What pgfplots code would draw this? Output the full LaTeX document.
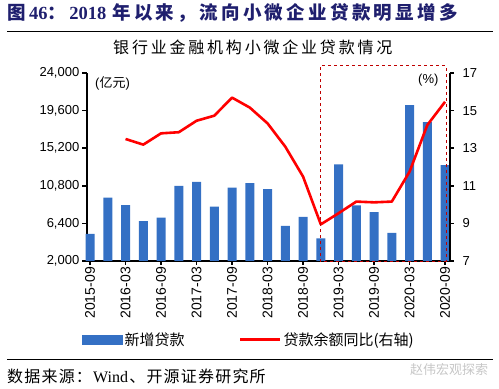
\documentclass[border=0pt]{standalone}
\usepackage{pgfplots}
\pgfplotsset{compat=1.18}
\usepackage{fontspec}
\setmainfont{Liberation Sans}
\newfontfamily\cjk{Noto Sans CJK SC}
\newfontfamily\tnr{Liberation Serif}
\definecolor{barblue}{HTML}{3470C4}
\definecolor{navy}{HTML}{1F1F6E}
\definecolor{dred}{HTML}{C00000}
\makeatletter
\newcommand\spaced[2]{\@tfor\sp@ch:=#2\do{\sp@ch\hspace{#1}}}
\makeatother

\pgfplotstableread{
x y
0 5160
1 9410
2 8550
3 6680
4 7070
5 10800
6 11250
7 8360
8 10580
9 11120
10 10425
11 6100
12 7150
13 4650
14 13310
15 8515
16 7730
17 5280
18 20255
19 18265
20 13234
}\newloans

\pgfplotstableread{
x y
2 13.49
3 13.19
4 13.79
5 13.85
6 14.46
7 14.73
8 15.69
9 15.16
10 14.32
11 13.08
12 11.49
13 8.95
14 9.54
15 10.16
16 10.12
17 10.16
18 11.75
19 14.23
20 15.47
}\growth

\begin{document}
\begin{tikzpicture}[x=1pt,y=1pt]
\useasboundingbox (0,0) rectangle (499,389);
% header
\node[anchor=west, text=navy, inner sep=0] at (7,376)
  {\fontsize{18.5}{18.5}\selectfont\cjk\bfseries \spaced{3.3pt}{图}{\tnr\bfseries 46}\spaced{3.3pt}{：}{\tnr\bfseries 2018}\hspace{6pt}\spaced{3.3pt}{年以来，流向小微企业贷款明显增多}};
\draw[line width=1pt] (7,357.5) -- (493,357.5);
\node[anchor=west, inner sep=0] at (113,342) {\fontsize{16}{16}\selectfont\cjk\spaced{2.8pt}{银行业金融机构小微企业贷款情况}};

\begin{axis}[
  at={(86.5pt,128pt)}, anchor=south west,
  scale only axis, width=363pt, height=188pt,
  ybar, bar width=9pt,
  xmin=-0.2, xmax=20.25,
  ymin=2000, ymax=24000,
  ytick={2000,6400,10800,15200,19600,24000},
  scaled y ticks=false,
  axis y line*=left, axis x line*=bottom,
  axis line style={line width=2pt, -},
  tick align=outside,
  major tick length=4pt,
  tick style={line width=1.6pt, black},
  xtick={0,2,...,20},
  xticklabels={2015-09,2016-03,2016-09,2017-03,2017-09,2018-03,2018-09,2019-03,2019-09,2020-03,2020-09},
  xticklabel style={rotate=90, anchor=east, inner sep=2pt, font=\fontsize{14}{14}\selectfont},
  yticklabel style={font=\fontsize{13}{13}\selectfont, inner sep=3pt,
    /pgf/number format/.cd, fixed, precision=0, 1000 sep={,}, assume math mode=true},
  clip=false,
]
\addplot[fill=barblue, draw=none] table[x=x,y=y] {\newloans};
\end{axis}

\begin{axis}[
  at={(86.5pt,128pt)}, anchor=south west,
  scale only axis, width=363pt, height=188pt,
  xmin=-0.2, xmax=20.25,
  ymin=7, ymax=17,
  ytick={7,9,11,13,15,17},
  axis y line*=right, axis x line=none,
  axis line style={line width=2pt, -},
  tick align=outside,
  major tick length=4pt,
  tick style={line width=1.6pt, black},
  yticklabel style={font=\fontsize{13}{13}\selectfont, inner sep=3pt, xshift=6pt,
    /pgf/number format/assume math mode=true},
  clip=false,
  legend style={at={(-0.0124,-0.42)}, anchor=west, draw=none, fill=none,
    inner sep=0pt, font=\fontsize{15}{15}\selectfont\cjk,
    /tikz/every even column/.append style={column sep=52pt}},
  legend columns=2,
]
\addlegendimage{legend image code/.code={\fill[barblue] (0pt,-4.5pt) rectangle (40pt,4.5pt);}}
\addlegendentry{新增贷款}
\addplot[red, line width=2.6pt, line join=round,
  legend image code/.code={\draw[red, line width=3pt] (0pt,0pt) -- (40pt,0pt);}]
  table[x=x,y=y] {\growth};
\addlegendentry{贷款余额同比(右轴)}
\draw[dred, dashed, line width=0.8pt] (axis cs:12.95,6.97) rectangle (axis cs:20.05,17.38);
\end{axis}

\node[anchor=west, inner sep=0] at (95,306) {\fontsize{13}{13}\selectfont({\cjk 亿元})};
\node[anchor=west, inner sep=0] at (418,309) {\fontsize{13}{13}\selectfont(\%)};

\draw[line width=0.8pt] (7,30) -- (493,30);
\node[anchor=west, inner sep=0] at (7,13)
  {\fontsize{16}{16}\selectfont\cjk \spaced{1.2pt}{数据来源：}{\tnr Wind}\hspace{1.2pt}\spaced{1.2pt}{、开源证券研究所}};
\node[anchor=west, inner sep=0, text=gray!45] at (410,19)
  {\fontsize{13}{13}\selectfont\cjk 赵伟宏观探索};
\end{tikzpicture}
\end{document}
